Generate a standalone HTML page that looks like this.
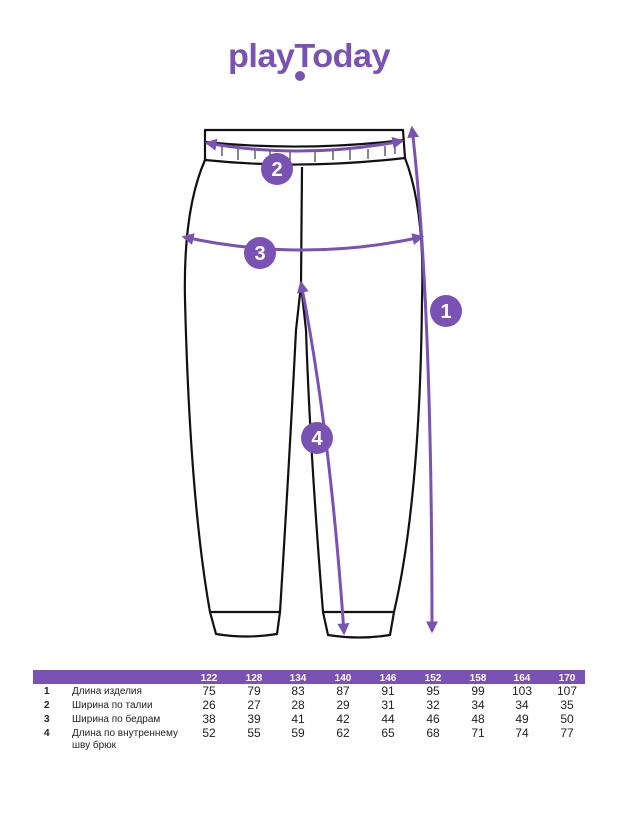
<!DOCTYPE html>
<html><head><meta charset="utf-8"><style>
body{margin:0;background:#fff;width:618px;height:824px;overflow:hidden;font-family:"Liberation Sans",sans-serif;}
svg{position:absolute;left:0;top:0}
</style></head><body>
<svg width="618" height="824" viewBox="0 0 618 824">
<defs><marker id="ah" viewBox="0 0 10 10" refX="8" refY="5" markerWidth="4" markerHeight="4" orient="auto-start-reverse"><path d="M0,0L10,5L0,10z" fill="#7a52b3"/></marker></defs>
<text x="309" y="67" text-anchor="middle" font-size="33" font-weight="bold" fill="#7a52b3" font-family="Liberation Sans,sans-serif" letter-spacing="-0.5" textLength="162" lengthAdjust="spacingAndGlyphs">playToday</text>
<circle cx="300" cy="76" r="5" fill="#7a52b3"/>
<g fill="none" stroke="#111" stroke-width="2.2" stroke-linejoin="round">
<path d="M205,130 L403,130 L405,158 Q302,170 205,160 Z"/>
<path d="M205,142 Q302,152 404,140"/>
<path d="M205,160 Q183,210 185,300 Q190,500 210,612 L280,612 Q290,450 296,330 L301,285 L302,167"/>
<path d="M405,158 Q425,210 422,300 Q420,500 394,612 L323,612 Q310,450 306,330 L301,285"/>
<path d="M210,612 L216,634 Q246,639 277,634 L280,612"/>
<path d="M323,612 L328,635 Q359,640 390,635 L394,612"/>
<g stroke-width="1"><path d="M222,146v10M238,148v12M255,150v9M270,151v10M290,152v9M315,152v10M333,151v9M350,150v10M368,149v10M385,146v10M395,145v9"/></g>
</g>
<g fill="none" stroke="#7a52b3" stroke-width="3">
<path d="M207,143 Q302,160 402,141" marker-start="url(#ah)" marker-end="url(#ah)"/>
<path d="M184,237 Q302,263 422,237" marker-start="url(#ah)" marker-end="url(#ah)"/>
<path d="M412,128 Q432,300 432,631" marker-start="url(#ah)" marker-end="url(#ah)"/>
<path d="M301,283 Q330,430 344,633" marker-start="url(#ah)" marker-end="url(#ah)"/>
</g>
<g fill="#7a52b3"><circle cx="277" cy="169" r="16"/><circle cx="260" cy="253" r="16"/><circle cx="446" cy="311" r="16"/><circle cx="317" cy="438" r="16"/></g>
<g fill="#fff" font-size="20" font-weight="bold" text-anchor="middle"><text x="277" y="176">2</text><text x="260" y="260">3</text><text x="446" y="318">1</text><text x="317" y="445">4</text></g>
<rect x="33" y="670" width="552" height="14" fill="#7a52b3"/>
<g font-size="10" font-weight="bold" fill="#fff" text-anchor="middle"><text x="209" y="681">122</text><text x="254" y="681">128</text><text x="298" y="681">134</text><text x="343" y="681">140</text><text x="388" y="681">146</text><text x="433" y="681">152</text><text x="478" y="681">158</text><text x="522" y="681">164</text><text x="567" y="681">170</text></g>
<g font-size="10" fill="#222">
<g font-weight="bold"><text x="44" y="694">1</text><text x="44" y="708">2</text><text x="44" y="722">3</text><text x="44" y="736">4</text></g>
<text x="72" y="694">Длина изделия</text><text x="72" y="708">Ширина по талии</text><text x="72" y="722">Ширина по бедрам</text><text x="72" y="736">Длина по внутреннему</text><text x="72" y="748">шву брюк</text>
</g>
<g font-size="12" fill="#222" text-anchor="middle">
<text x="209" y="695">75</text><text x="254" y="695">79</text><text x="298" y="695">83</text><text x="343" y="695">87</text><text x="388" y="695">91</text><text x="433" y="695">95</text><text x="478" y="695">99</text><text x="522" y="695">103</text><text x="567" y="695">107</text>
<text x="209" y="709">26</text><text x="254" y="709">27</text><text x="298" y="709">28</text><text x="343" y="709">29</text><text x="388" y="709">31</text><text x="433" y="709">32</text><text x="478" y="709">34</text><text x="522" y="709">34</text><text x="567" y="709">35</text>
<text x="209" y="723">38</text><text x="254" y="723">39</text><text x="298" y="723">41</text><text x="343" y="723">42</text><text x="388" y="723">44</text><text x="433" y="723">46</text><text x="478" y="723">48</text><text x="522" y="723">49</text><text x="567" y="723">50</text>
<text x="209" y="737">52</text><text x="254" y="737">55</text><text x="298" y="737">59</text><text x="343" y="737">62</text><text x="388" y="737">65</text><text x="433" y="737">68</text><text x="478" y="737">71</text><text x="522" y="737">74</text><text x="567" y="737">77</text>
</g>
</svg>
</body></html>
